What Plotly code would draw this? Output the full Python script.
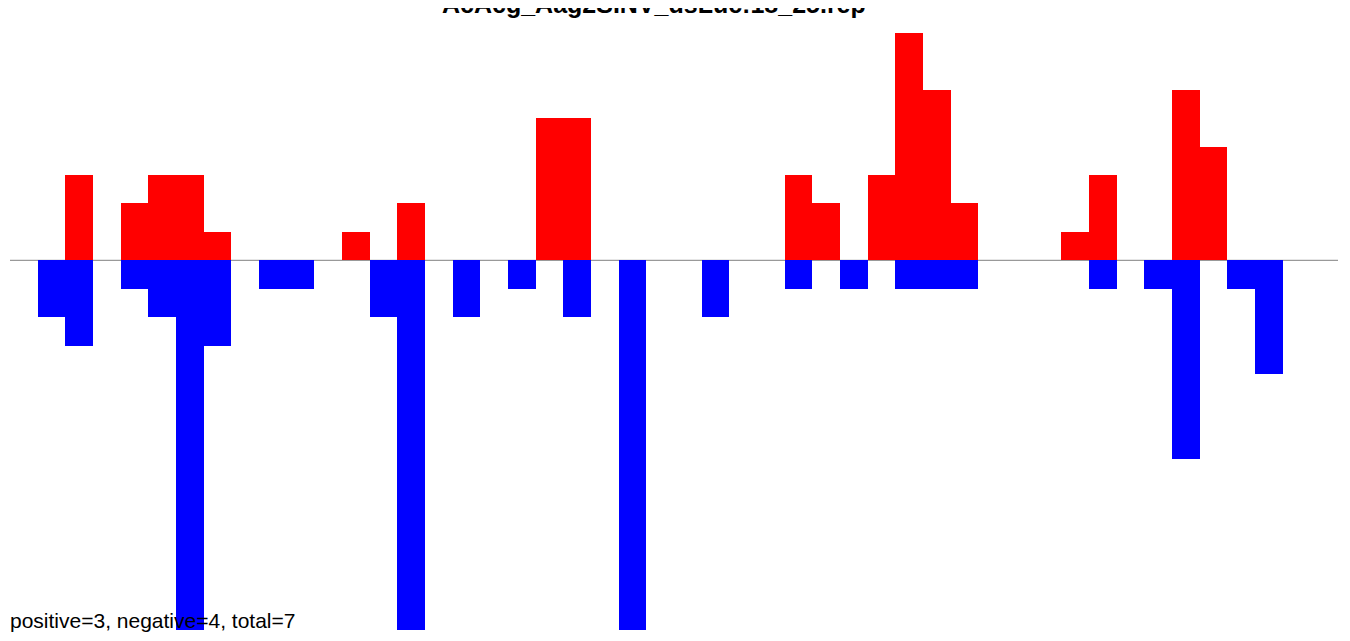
import plotly.graph_objects as go

title_text = "AcAcg_Aag2SINV_dsLuc:18_25.rep"
footer_text = "positive=3, negative=4, total=7"

bins = list(range(48))
pos_values = [0, 0, 3, 0, 2, 3, 3, 1, 0, 0, 0, 0, 1, 0, 2, 0,
              0, 0, 0, 5, 5, 0, 0, 0, 0, 0, 0, 0, 3, 2, 0, 3,
              8, 6, 2, 0, 0, 0, 1, 3, 0, 0, 6, 4, 0, 0, 0, 0]
neg_values = [0, -2, -3, 0, -1, -2, -13, -3, 0, -1, -1, 0, 0, -2, -13, 0,
              -2, 0, -1, 0, -2, 0, -13, 0, 0, -2, 0, 0, -1, 0, -1, 0,
              -1, -1, -1, 0, 0, 0, 0, -1, 0, -1, -7, 0, -1, -4, 0, 0]

fig = go.Figure()
fig.add_trace(go.Bar(x=bins, y=pos_values, width=1, marker=dict(color="#ff0000", line=dict(width=0)),
                     showlegend=False, hoverinfo="x+y"))
fig.add_trace(go.Bar(x=bins, y=neg_values, width=1, marker=dict(color="#0000ff", line=dict(width=0)),
                     showlegend=False, hoverinfo="x+y"))

fig.add_shape(type="line", x0=-0.5, x1=47.5, y0=0, y1=0, xref="x", yref="y",
              line=dict(color="#808080", width=1), layer="below")

fig.add_annotation(text=footer_text, xref="paper", yref="paper", x=0, y=0,
                   xanchor="left", yanchor="bottom", showarrow=False, yshift=-4, xshift=-2,
                   font=dict(family="Liberation Sans, Arial", size=21, color="#000000"))

fig.add_annotation(text="<b>" + title_text + "</b>", xref="paper", yref="paper",
                   x=(646 - 2) / 1328, y=1, xanchor="center", yanchor="bottom",
                   showarrow=False, yshift=0,
                   font=dict(family="Liberation Sans, Arial", size=25, color="#000000"))

fig.update_layout(
    width=1350, height=641,
    margin=dict(l=2, r=20, t=12, b=19),
    paper_bgcolor="white", plot_bgcolor="white",
    barmode="relative", bargap=0,
    xaxis=dict(range=[-0.5, 47.5], visible=False, showgrid=False, zeroline=False),
    yaxis=dict(range=[-13.0, 8.45], visible=False, showgrid=False, zeroline=False),
)

fig.write_html("out.html")
